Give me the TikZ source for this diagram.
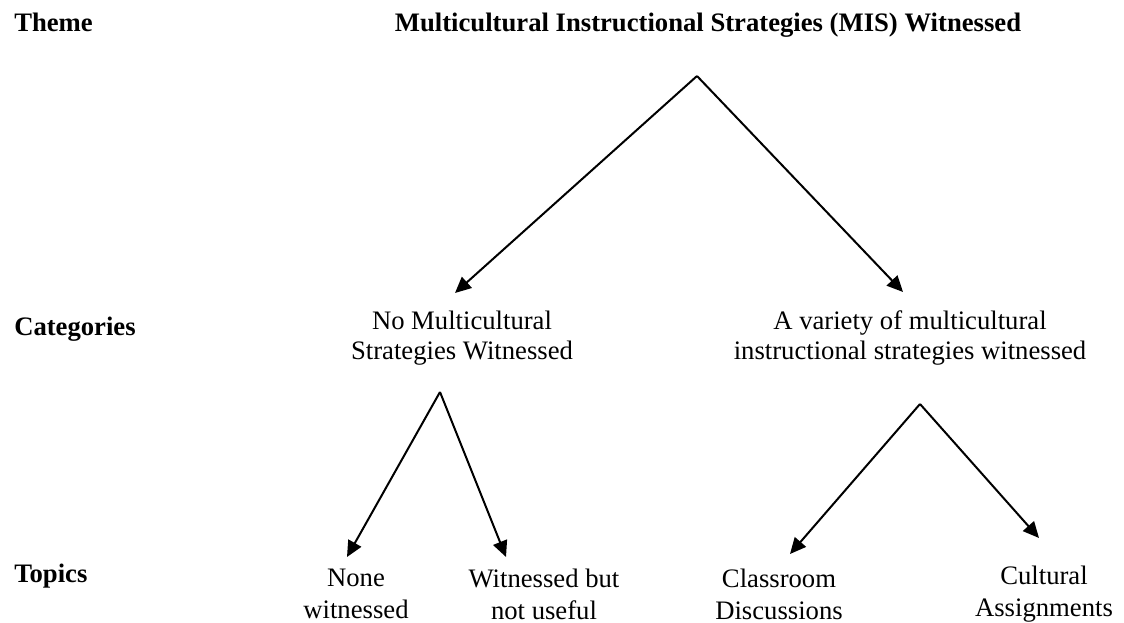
\documentclass[tikz,border=0pt]{standalone}
\usepackage{fontspec}
\setmainfont{Liberation Serif}
\usepackage{tikz}
\usetikzlibrary{arrows.meta,positioning,calc}
\tikzset{
    rowlabel/.style={anchor=base west, inner sep=0pt, font=\fontsize{20}{23}\selectfont\bfseries},
    title/.style={anchor=base, inner sep=0pt, font=\fontsize{20}{23}\selectfont\bfseries},
    cat/.style={align=center, inner sep=0pt, font=\fontsize{20}{22.5}\selectfont},
    topic/.style={align=center, inner sep=0pt, font=\fontsize{20}{24}\selectfont},
    branch/.style={line width=1.5pt, black, -{Triangle[length=12pt, width=11pt]}},
}

\begin{document}
\begin{tikzpicture}[x=0.75pt, y=-0.75pt]
    \useasboundingbox (0,0) rectangle (1124,623);

    % Row labels
    \node[rowlabel] (lTheme) at (14, 32) {Theme};
    \node[rowlabel] (lCat) at (14, 336) {Categories};
    \node[rowlabel] (lTopic) at (14, 582) {Topics};

    % Theme
    \node[title] (theme) at (708, 32) {Multicultural Instructional Strategies (MIS) Witnessed};
    \coordinate (root) at (697, 76);

    % Categories
    \node[cat] (catNo) at (462, 338) {No Multicultural\\Strategies Witnessed};
    \node[cat] (catVar) at (910, 338) {A variety of multicultural\\instructional strategies witnessed};
    \coordinate (tipNo) at (455, 293);
    \coordinate (tipVar) at (903, 292);
    \coordinate (splitNo) at (440, 392);
    \coordinate (splitVar) at (920, 404);

    % Topics
    \node[topic] (tNone) at (356, 594) {None\\witnessed};
    \node[topic] (tUseless) at (544, 594) {Witnessed but\\not useful};
    \node[topic] (tClass) at (779, 594) {Classroom\\Discussions};
    \node[topic] (tCult) at (1044, 594) {Cultural\\Assignments};
    \coordinate (tipNone) at (347, 557);
    \coordinate (tipUseless) at (506, 557);
    \coordinate (tipClass) at (790, 554);
    \coordinate (tipCult) at (1039, 538);

    % Branches
    \draw[branch] (root) -- (tipNo);
    \draw[branch] (root) -- (tipVar);
    \draw[branch] (splitNo) -- (tipNone);
    \draw[branch] (splitNo) -- (tipUseless);
    \draw[branch] (splitVar) -- (tipClass);
    \draw[branch] (splitVar) -- (tipCult);
\end{tikzpicture}
\end{document}
